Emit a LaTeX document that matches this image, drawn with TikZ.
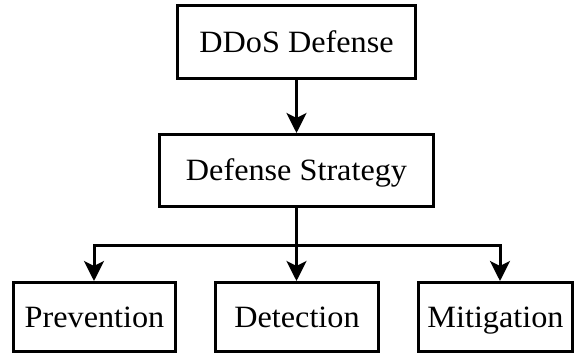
\documentclass[tikz,border=0pt]{standalone}
\usepackage{fontspec}
\setmainfont[FakeStretch=1.04]{Liberation Serif}
\usetikzlibrary{arrows.meta}
\begin{document}
\begin{tikzpicture}[x=1pt,y=-1pt,
  box/.style={draw=black, line width=3pt, fill=white, inner sep=0pt,
    text height=20.5pt, text depth=0pt,
    font=\fontsize{31}{36}\selectfont},
  link/.style={line width=3pt, -{Stealth[length=20pt,width=20pt,inset=5pt]}},
  plain/.style={line width=3pt}]
  % canvas
  \useasboundingbox[fill=white] (0,0) rectangle (576,356);
  % boxes
  \node[box, minimum width=238pt, minimum height=73pt] (root) at (296.5,42) {DDoS Defense};
  \node[box, minimum width=274pt, minimum height=72pt] (strat) at (296.5,170.5) {Defense Strategy};
  \node[box, minimum width=162pt, minimum height=69pt] (prev) at (94.5,317) {Prevention};
  \node[box, minimum width=163pt, minimum height=69pt] (det) at (297,317) {Detection};
  \node[box, minimum width=154pt, minimum height=69pt] (mit) at (495.5,317) {Mitigation};
  % connectors
  \coordinate (bus) at (296.5,245);
  \coordinate (busL) at (94,245);
  \coordinate (busR) at (500,245);
  \draw[link] (root) -- (strat);
  \draw[plain] (strat.south) -- (bus);
  \draw[plain, line cap=rect] (busL) -- (busR);
  \draw[link] (busL) -- (busL |- prev.north);
  \draw[link] (bus) -- (bus |- det.north);
  \draw[link] (busR) -- (busR |- mit.north);
\end{tikzpicture}
\end{document}
